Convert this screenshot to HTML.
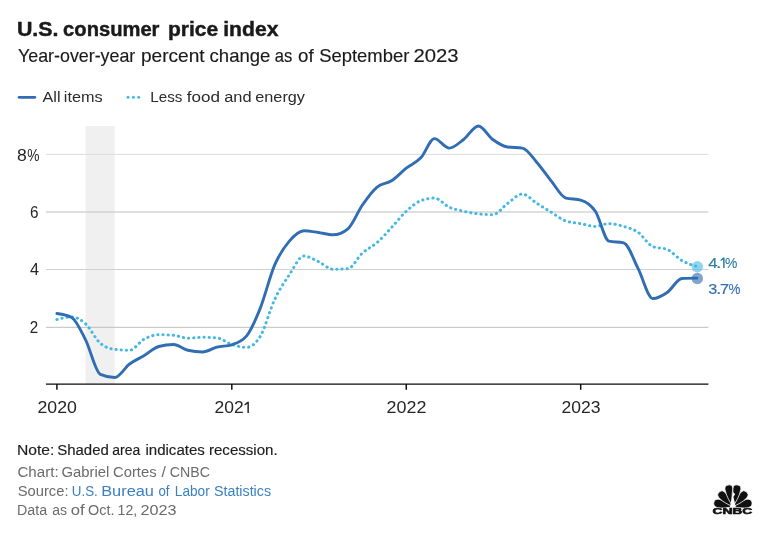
<!DOCTYPE html>
<html>
<head>
<meta charset="utf-8">
<title>U.S. consumer price index</title>
<style>
html,body{margin:0;padding:0;background:#fff;}
body{width:765px;height:538px;overflow:hidden;position:relative;font-family:"Liberation Sans",sans-serif;}
svg{position:absolute;left:0;top:0;display:block;will-change:transform;}
text{font-family:"Liberation Sans",sans-serif;}
.t{fill:#1a1a1a;}
.ax{fill:#262626;font-size:16px;}
.ft{fill:#6b6b6b;font-size:14px;}
</style>
</head>
<body>
<svg width="765" height="538" viewBox="0 0 765 538">
  <!-- header -->
  <g font-size="20.5" fill="#1a1a1a" font-weight="700" stroke="#1a1a1a" stroke-width="0.45"><text x="16.95" y="35.5" textLength="41.58" lengthAdjust="spacingAndGlyphs">U.S.</text><text x="63.11" y="35.5" textLength="96.36" lengthAdjust="spacingAndGlyphs">consumer</text><text x="167.96" y="35.5" textLength="50.25" lengthAdjust="spacingAndGlyphs">price</text><text x="223.26" y="35.5" textLength="55.19" lengthAdjust="spacingAndGlyphs">index</text></g>
  <g font-size="17.8" fill="#1a1a1a" stroke="#1a1a1a" stroke-width="0.15"><text x="18.00" y="61.9" textLength="117.28" lengthAdjust="spacingAndGlyphs">Year-over-year</text><text x="140.91" y="61.9" textLength="63.67" lengthAdjust="spacingAndGlyphs">percent</text><text x="209.57" y="61.9" textLength="60.87" lengthAdjust="spacingAndGlyphs">change</text><text x="274.86" y="61.9" textLength="17.50" lengthAdjust="spacingAndGlyphs">as</text><text x="298.07" y="61.9" textLength="15.58" lengthAdjust="spacingAndGlyphs">of</text><text x="319.17" y="61.9" textLength="90.22" lengthAdjust="spacingAndGlyphs">September</text><text x="413.58" y="61.9" textLength="45.03" lengthAdjust="spacingAndGlyphs">2023</text></g>

  <!-- legend -->
  <line x1="19.1" y1="97.3" x2="34.8" y2="97.3" stroke="#316db2" stroke-width="2.8" stroke-linecap="round"/>
  <g font-size="15.5" fill="#2b2b2b"><text x="42.50" y="101.9" textLength="17.98" lengthAdjust="spacingAndGlyphs">All</text><text x="63.85" y="101.9" textLength="38.80" lengthAdjust="spacingAndGlyphs">items</text></g>
  <circle cx="128" cy="97.3" r="1.5" fill="#45b9e1"/><circle cx="133.4" cy="97.3" r="1.5" fill="#45b9e1"/><circle cx="138.7" cy="97.3" r="1.5" fill="#45b9e1"/>
  <g font-size="15.5" fill="#2b2b2b"><text x="150.33" y="101.9" textLength="32.00" lengthAdjust="spacingAndGlyphs">Less</text><text x="186.88" y="101.9" textLength="33.19" lengthAdjust="spacingAndGlyphs">food</text><text x="224.16" y="101.9" textLength="27.36" lengthAdjust="spacingAndGlyphs">and</text><text x="255.27" y="101.9" textLength="49.73" lengthAdjust="spacingAndGlyphs">energy</text></g>

  <!-- recession shade -->
  <rect x="85.57" y="126" width="29.15" height="258.1" fill="#f0f0f0"/>

  <!-- gridlines -->
  <g stroke-width="1">
    <line x1="45.9" x2="708.4" y1="154.4" y2="154.4" stroke="#dcdcdc"/>
    <line x1="45.9" x2="708.4" y1="212" y2="212" stroke="#c0c0c0" stroke-width="1.1"/>
    <line x1="45.9" x2="708.4" y1="269.5" y2="269.5" stroke="#d0d0d0"/>
    <line x1="45.9" x2="708.4" y1="327.3" y2="327.3" stroke="#bebebe"/>
  </g>

  <!-- y labels -->
  <text class="ax" x="17.14" y="160.9" textLength="9.8" lengthAdjust="spacingAndGlyphs">8</text><text class="ax" x="27.32" y="160.9" textLength="12.22" lengthAdjust="spacingAndGlyphs">%</text>
  <text class="ax" x="29.9" y="217.9" textLength="8.5" lengthAdjust="spacingAndGlyphs">6</text>
  <text class="ax" x="30.1" y="275.3" textLength="9" lengthAdjust="spacingAndGlyphs">4</text>
  <text class="ax" x="29.85" y="332.9" textLength="8.4" lengthAdjust="spacingAndGlyphs">2</text>

  <!-- series -->
  <path d="M56.90,319.50C61.84,318.21 66.78,316.92 71.71,316.92C76.33,316.92 80.95,319.68 85.57,323.81C90.51,328.22 95.45,339.18 100.39,343.33C105.17,347.35 109.95,348.81 114.73,349.36C119.66,349.94 124.60,350.22 129.54,350.22C134.32,350.22 139.10,341.89 143.88,339.31C148.82,336.65 153.75,334.72 158.69,334.72C163.63,334.72 168.57,334.91 173.51,335.29C178.29,335.66 183.07,338.16 187.84,338.16C192.78,338.16 197.72,337.30 202.66,337.30C207.44,337.30 212.22,337.49 217.00,337.88C221.93,338.27 226.87,342.90 231.81,344.48C236.75,346.06 241.69,347.35 246.63,347.35C251.09,347.35 255.55,343.81 260.01,336.73C264.95,328.89 269.88,309.51 274.82,299.12C279.60,289.07 284.38,282.09 289.16,275.00C294.10,267.67 299.04,256.05 303.97,256.05C308.75,256.05 313.53,259.35 318.31,261.51C323.25,263.73 328.19,269.26 333.13,269.26C338.06,269.26 343.00,269.07 347.94,268.69C352.72,268.32 357.50,257.49 362.28,253.18C367.22,248.73 372.15,246.91 377.09,242.56C381.87,238.35 386.65,232.76 391.43,227.63C396.37,222.33 401.31,215.76 406.24,211.27C411.18,206.77 416.12,202.55 421.06,200.64C425.52,198.92 429.98,198.06 434.44,198.06C439.38,198.06 444.32,205.04 449.26,207.25C454.03,209.38 458.81,210.17 463.59,211.27C468.53,212.39 473.47,213.28 478.41,213.85C483.19,214.41 487.97,214.71 492.74,214.71C497.68,214.71 502.62,206.96 507.56,203.51C512.50,200.07 517.44,194.04 522.37,194.04C527.15,194.04 531.93,200.21 536.71,203.23C541.65,206.34 546.59,209.40 551.53,212.41C556.31,215.33 561.08,219.36 565.86,221.03C570.80,222.75 575.74,222.70 580.68,223.61C585.62,224.52 590.55,226.48 595.49,226.48C599.95,226.48 604.41,223.61 608.87,223.61C613.81,223.61 618.75,225.01 623.69,226.48C628.47,227.91 633.25,228.97 638.03,232.22C642.96,235.58 647.90,244.60 652.84,246.58C657.62,248.49 662.40,247.54 667.18,249.45C672.12,251.43 677.05,257.82 681.99,260.65C686.93,263.47 691.87,264.93 696.81,266.39" fill="none" stroke="#45b9e1" stroke-width="3" stroke-linecap="round" stroke-dasharray="0.3 4.87"/>
  <path d="M56.90,313.47C61.84,314.14 66.78,314.81 71.71,317.49C76.33,320.00 80.95,330.84 85.57,339.89C90.51,349.56 95.45,372.16 100.39,374.34C105.17,376.44 109.95,377.50 114.73,377.50C119.66,377.50 124.60,367.67 129.54,364.00C134.32,360.45 139.10,358.55 143.88,355.68C148.82,352.71 153.75,347.83 158.69,346.49C163.63,345.15 168.57,344.48 173.51,344.48C178.29,344.48 183.07,349.11 187.84,350.22C192.78,351.37 197.72,351.94 202.66,351.94C207.44,351.94 212.22,348.26 217.00,347.06C221.93,345.83 226.87,346.30 231.81,344.77C236.75,343.24 241.69,341.80 246.63,335.87C251.09,330.51 255.55,319.92 260.01,308.88C264.95,296.65 269.88,275.99 274.82,264.67C279.60,253.71 284.38,247.04 289.16,241.41C294.10,235.60 299.04,230.79 303.97,230.79C308.75,230.79 313.53,231.86 318.31,232.51C323.25,233.19 328.19,234.81 333.13,234.81C338.06,234.81 343.00,232.80 347.94,228.78C352.72,224.89 357.50,212.09 362.28,205.24C367.22,198.15 372.15,191.22 377.09,187.15C381.87,183.21 386.65,183.91 391.43,180.83C396.37,177.66 401.31,172.08 406.24,168.20C411.18,164.32 416.12,162.93 421.06,157.58C425.52,152.74 429.98,138.63 434.44,138.63C439.38,138.63 444.32,148.10 449.26,148.10C454.03,148.10 458.81,143.09 463.59,139.49C468.53,135.77 473.47,126.00 478.41,126.00C483.19,126.00 487.97,136.02 492.74,139.49C497.68,143.08 502.62,146.19 507.56,146.96C512.50,147.72 517.44,147.34 522.37,148.10C527.15,148.84 531.93,156.74 536.71,162.17C541.65,167.79 546.59,175.34 551.53,181.41C556.31,187.28 561.08,196.76 565.86,198.06C570.80,199.40 575.74,198.73 580.68,200.07C585.62,201.41 590.55,204.00 595.49,211.55C599.95,218.37 604.41,240.09 608.87,241.12C613.81,242.27 618.75,241.70 623.69,242.85C628.47,243.96 633.25,259.29 638.03,268.40C642.96,277.81 647.90,298.54 652.84,298.54C657.62,298.54 662.40,295.77 667.18,292.52C672.12,289.15 677.05,278.64 681.99,278.45C686.93,278.26 691.87,278.21 696.81,278.16" fill="none" stroke="#316db2" stroke-width="2.9" stroke-linecap="round" stroke-linejoin="round"/>

  <!-- x axis -->
  <g stroke="#0a0a0a" stroke-width="1.45">
    <line x1="45.9" x2="708.4" y1="384.1" y2="384.1"/>
    <line x1="56.90" x2="56.90" y1="384.1" y2="389.8"/>
    <line x1="231.81" x2="231.81" y1="384.1" y2="389.8"/>
    <line x1="406.24" x2="406.24" y1="384.1" y2="389.8"/>
    <line x1="580.68" x2="580.68" y1="384.1" y2="389.8"/>
  </g>
  <text class="ax" x="37.5" y="412.9" textLength="39.36" lengthAdjust="spacingAndGlyphs">2020</text>
  <text class="ax" x="214.5" y="412.9" textLength="29.1" lengthAdjust="spacingAndGlyphs">202</text>
  <path d="M247.4,401.8 L248.9,401.8 L248.9,412.9 L247.4,412.9 L247.4,403.7 L244.9,405.5 L244.2,404.4Z" fill="#262626"/>
  <text class="ax" x="386.64" y="412.9" textLength="39.82" lengthAdjust="spacingAndGlyphs">2022</text>
  <text class="ax" x="561.53" y="412.9" textLength="39.0" lengthAdjust="spacingAndGlyphs">2023</text>

  <!-- end markers -->
  <circle cx="697.31" cy="266.69" r="5.7" fill="#45b9e1" fill-opacity="0.6"/>
  <circle cx="697.31" cy="278.46" r="5.7" fill="#316db2" fill-opacity="0.62"/>
  <g font-size="15.3" fill="#2c7ea4" stroke="#2c7ea4" stroke-width="0.12">
    <text x="708.18" y="268.1" textLength="9.34" lengthAdjust="spacingAndGlyphs">4</text>
    <text x="715.9" y="268.1" textLength="5.49" lengthAdjust="spacingAndGlyphs">.</text>
    <path d="M723.1,257.6 L724.6,257.6 L724.6,268.1 L723.1,268.1 L723.1,259.5 L721.0,261.1 L720.3,260.0Z" stroke="none"/>
    <text x="725.08" y="268.1" textLength="12.38" lengthAdjust="spacingAndGlyphs">%</text>
  </g>
  <g font-size="15.3" fill="#316db2" stroke="#316db2" stroke-width="0.12">
    <text x="708.2" y="293.7" textLength="9.02" lengthAdjust="spacingAndGlyphs">3</text>
    <text x="715.9" y="293.7" textLength="5.49" lengthAdjust="spacingAndGlyphs">.</text>
    <text x="719.65" y="293.7" textLength="9.5" lengthAdjust="spacingAndGlyphs">7</text>
    <text x="728.6" y="293.7" textLength="11.94" lengthAdjust="spacingAndGlyphs">%</text>
  </g>

  <!-- footer -->
  <g font-size="14" fill="#1d1d1d" stroke="#1d1d1d" stroke-width="0.15"><text x="16.97" y="455.1" textLength="37.44" lengthAdjust="spacingAndGlyphs">Note:</text><text x="57.20" y="455.1" textLength="51.63" lengthAdjust="spacingAndGlyphs">Shaded</text><text x="112.30" y="455.1" textLength="28.02" lengthAdjust="spacingAndGlyphs">area</text><text x="145.43" y="455.1" textLength="59.46" lengthAdjust="spacingAndGlyphs">indicates</text><text x="208.93" y="455.1" textLength="68.78" lengthAdjust="spacingAndGlyphs">recession.</text></g>
  <g font-size="14" fill="#6b6b6b"><text x="17.44" y="477.2" textLength="41.19" lengthAdjust="spacingAndGlyphs">Chart:</text><text x="61.46" y="477.2" textLength="47.83" lengthAdjust="spacingAndGlyphs">Gabriel</text><text x="113.06" y="477.2" textLength="43.50" lengthAdjust="spacingAndGlyphs">Cortes</text><text x="161.50" y="477.2" textLength="4.39" lengthAdjust="spacingAndGlyphs">/</text><text x="169.89" y="477.2" textLength="40.19" lengthAdjust="spacingAndGlyphs">CNBC</text></g>
  <g font-size="14" fill="#6b6b6b"><text x="17.76" y="495.8" textLength="50.75" lengthAdjust="spacingAndGlyphs">Source:</text></g>
  <g font-size="14" fill="#3a80c3"><text x="71.75" y="495.8" textLength="26.02" lengthAdjust="spacingAndGlyphs">U.S.</text><text x="101.21" y="495.8" textLength="52.77" lengthAdjust="spacingAndGlyphs">Bureau</text><text x="158.43" y="495.8" textLength="11.04" lengthAdjust="spacingAndGlyphs">of</text><text x="174.83" y="495.8" textLength="34.87" lengthAdjust="spacingAndGlyphs">Labor</text><text x="213.99" y="495.8" textLength="57.03" lengthAdjust="spacingAndGlyphs">Statistics</text></g>
  <g font-size="14" fill="#6b6b6b"><text x="17.08" y="514.8" textLength="30.09" lengthAdjust="spacingAndGlyphs">Data</text><text x="52.20" y="514.8" textLength="14.79" lengthAdjust="spacingAndGlyphs">as</text><text x="70.89" y="514.8" textLength="13.88" lengthAdjust="spacingAndGlyphs">of</text><text x="88.08" y="514.8" textLength="26.32" lengthAdjust="spacingAndGlyphs">Oct.</text><text x="117.59" y="514.8" textLength="19.57" lengthAdjust="spacingAndGlyphs">12,</text><text x="140.49" y="514.8" textLength="36.04" lengthAdjust="spacingAndGlyphs">2023</text></g>

  <!-- CNBC logo -->
  <g id="logo" fill="#111">
    <g transform="translate(732.9,506.8)" stroke="#fff" stroke-width="0.7">
      <path d="M0,0 C-1.89,-4.90 -4.20,-9.41 -4.20,-15.40 A4.20,4.20 0 0 1 4.20,-15.40 C4.20,-9.41 1.89,-4.90 0,0Z" transform="rotate(-77)"/>
      <path d="M0,0 C-1.89,-4.90 -4.20,-9.41 -4.20,-15.40 A4.20,4.20 0 0 1 4.20,-15.40 C4.20,-9.41 1.89,-4.90 0,0Z" transform="rotate(77)"/>
      <path d="M0,0 C-1.84,-5.05 -4.10,-9.70 -4.10,-16.10 A4.10,4.10 0 0 1 4.10,-16.10 C4.10,-9.70 1.84,-5.05 0,0Z" transform="rotate(-43)"/>
      <path d="M0,0 C-1.84,-5.05 -4.10,-9.70 -4.10,-16.10 A4.10,4.10 0 0 1 4.10,-16.10 C4.10,-9.70 1.84,-5.05 0,0Z" transform="rotate(43)"/>
      <path d="M0,0 C-1.80,-5.58 -4.00,-10.70 -4.00,-18.30 A4.00,4.00 0 0 1 4.00,-18.30 C4.00,-10.70 1.80,-5.58 0,0Z" transform="rotate(-12.5)"/>
      <path d="M0,0 C-1.80,-5.58 -4.00,-10.70 -4.00,-18.30 A4.00,4.00 0 0 1 4.00,-18.30 C4.00,-10.70 1.80,-5.58 0,0Z" transform="rotate(12.5)"/>
      <path d="M0,-21.5 L-0.45,-13 L-3,0.6 L3,0.6 L0.5,-10 L2.3,-12.6 L0.45,-14.5Z" fill="#fff" stroke="none"/>
    </g>
    <text x="712.4" y="514.3" font-size="8.7" font-weight="700" stroke="#111" stroke-width="0.55" textLength="40" lengthAdjust="spacingAndGlyphs">CNBC</text>
  </g>
</svg>
</body>
</html>
